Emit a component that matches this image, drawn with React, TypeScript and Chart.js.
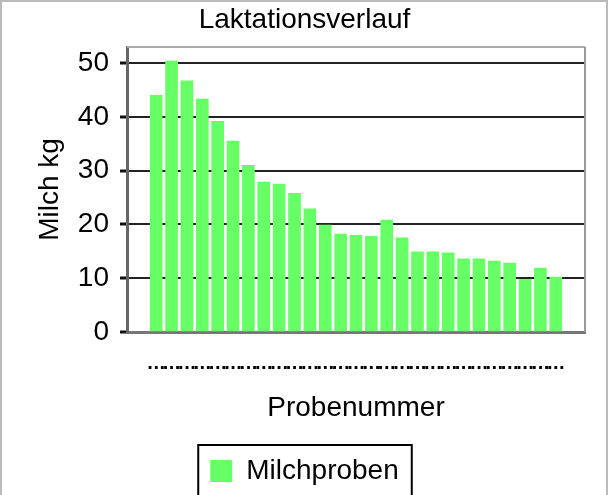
import React, { useEffect, useRef } from "react";
import { Chart, registerables } from "chart.js";

Chart.register(...registerables);

const chartTitle = "Laktationsverlauf";
const seriesLabel = "Milchproben";
const xTitle = "Probenummer";
const yTitle = "Milch kg";
const probenummer = [1, 2, 3, 4, 5, 6, 7, 8, 9, 10, 11, 12, 13, 14, 15, 16, 17, 18, 19, 20, 21, 22, 23, 24, 25, 26, 27];
const milchKg = [44.0, 50.4, 46.7, 43.3, 39.2, 35.5, 31.0, 27.9, 27.5, 25.8, 22.9, 19.9, 18.2, 18.0, 17.8, 20.8, 17.5, 14.9, 14.9, 14.7, 13.6, 13.6, 13.2, 12.8, 9.8, 11.9, 10.2];
const yTicks = [0, 10, 20, 30, 40, 50];
const xTickLabel = "...";

const FONT = "'Liberation Sans', Arial, sans-serif";
const DOTFONT = "'DejaVu Sans', sans-serif";

export default function App() {
  const ref = useRef<HTMLCanvasElement>(null);

  useEffect(() => {
    document.body.style.margin = "0";
    const frame = {
      id: "frame",
      afterDraw(chart: any) {
        const ctx = chart.ctx;
        const a = chart.chartArea;
        ctx.save();
        ctx.lineWidth = 2;
        ctx.strokeStyle = "#aaaaaa";
        ctx.beginPath();
        ctx.moveTo(a.left, a.top);
        ctx.lineTo(a.right, a.top);
        ctx.stroke();
        ctx.strokeStyle = "#999999";
        ctx.beginPath();
        ctx.moveTo(a.right, a.top);
        ctx.lineTo(a.right, a.bottom);
        ctx.stroke();
        ctx.strokeStyle = "#bbbbbb";
        ctx.lineWidth = 2;
        ctx.strokeRect(1, 1, 606, 600);
        const hb = chart.legend && chart.legend.legendHitBoxes && chart.legend.legendHitBoxes[0];
        if (hb) {
          ctx.strokeStyle = "#000000";
          ctx.lineWidth = 2;
          ctx.strokeRect(hb.left - 12, hb.top - 12, hb.width + 25, 90);
        }
        ctx.restore();
      },
    };

    const chart = new Chart(ref.current as HTMLCanvasElement, {
      type: "bar",
      data: {
        datasets: [
          {
            label: seriesLabel,
            data: probenummer.map((x, i) => ({ x, y: milchKg[i] })),
            backgroundColor: "#66FF66",
            borderWidth: 0,
            barThickness: 12,
          } as any,
        ],
      },
      options: {
        responsive: false,
        animation: false,
        devicePixelRatio: 1,
        layout: { padding: 0 },
        plugins: {
          title: {
            display: true,
            text: chartTitle,
            color: "#000",
            font: { family: FONT, size: 28, weight: "normal" },
            padding: { top: 3, bottom: 10.4 },
          },
          legend: {
            position: "bottom",
            labels: {
              color: "#000",
              font: { family: FONT, size: 28 },
              boxWidth: 22,
              boxHeight: 22,
              padding: 10,
            },
          },
          tooltip: { enabled: false },
        },
        scales: {
          x: {
            type: "linear",
            offset: false,
            min: -0.9,
            max: 28.9,
            grid: { display: false, drawTicks: false, offset: false },
            border: { display: true, color: "#777777", width: 3 },
            ticks: {
              autoSkip: false,
              maxRotation: 0,
              color: "#000",
              font: { family: DOTFONT, size: 16, weight: "bold" },
              padding: 23,
              callback: () => xTickLabel,
            },
            afterBuildTicks: (s: any) => {
              s.ticks = probenummer.map((v) => ({ value: v }));
            },
            afterFit: (s: any) => {
              s.height = 115;
            },
            title: {
              display: true,
              text: xTitle,
              color: "#000",
              font: { family: FONT, size: 28 },
              padding: { top: 0, bottom: 22 },
            },
          },
          y: {
            min: 0,
            max: 53,
            afterBuildTicks: (s: any) => {
              s.ticks = yTicks.map((v) => ({ value: v }));
            },
            grid: { color: "#222222", lineWidth: 2, tickLength: 7, tickWidth: 3, tickColor: "#111111" },
            border: { display: true, color: "#666666", width: 3 },
            ticks: { color: "#000", font: { family: FONT, size: 28 }, padding: 11 },
            title: {
              display: true,
              text: yTitle,
              color: "#000",
              font: { family: FONT, size: 28 },
              padding: { top: 33, bottom: 0 },
            },
            afterFit: (s: any) => {
              s.width = 127;
            },
          },
          y2: {
            position: "right",
            display: true,
            grid: { display: false, drawTicks: false },
            border: { display: false },
            ticks: { display: false },
            afterFit: (s: any) => {
              s.width = 24;
            },
          },
        },
      } as any,
      plugins: [frame],
    });
    return () => chart.destroy();
  }, []);

  return (
    <div style={{ position: "fixed", left: 0, top: 0, width: 609, height: 495, background: "#fff", overflow: "hidden" }}>
      <canvas ref={ref} width={609} height={495} style={{ display: "block" }} />
    </div>
  );
}
